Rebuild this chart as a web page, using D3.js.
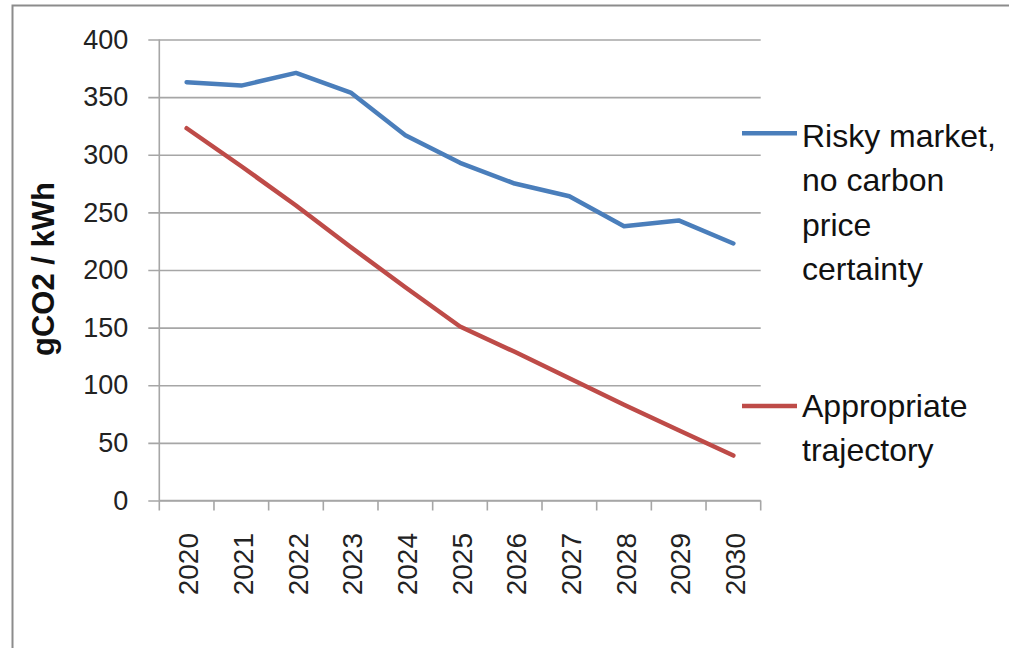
<!DOCTYPE html>
<html>
<head>
<meta charset="utf-8">
<script src="https://cdn.jsdelivr.net/npm/d3@7"></script>
<style>
  html, body { margin: 0; padding: 0; background: #fff; }
  svg { display: block; font-family: "Liberation Sans", Arial, sans-serif; }
</style>
</head>
<body>
<svg id="chart" width="1009" height="648"></svg>
<script>
(function () {
const years = ["2020","2021","2022","2023","2024","2025","2026","2027","2028","2029","2030"];
const riskyMarket = [363, 360, 371, 354, 317, 293, 275, 264, 238, 243, 223];
const appropriate = [323, 290, 256, 220, 185, 151, 129, 106, 83, 61, 39];
const yTicks = [0, 50, 100, 150, 200, 250, 300, 350, 400];
const seriesNames = [["Risky market,", "no carbon", "price", "certainty"], ["Appropriate", "trajectory"]];
const seriesColors = ["#4a7ebb", "#be4b48"];
const yTitle = "gCO2 / kWh";

const svg = d3.select("#chart");

// outer frame
svg.append("rect")
  .attr("x", 12.5).attr("y", 5.5)
  .attr("width", 1100).attr("height", 700)
  .attr("fill", "none").attr("stroke", "#8c8c8c").attr("stroke-width", 2);

const mLeft = 159.3, mRight = 760.7, mTop = 39.5, mBottom = 500.5;

const x = d3.scaleBand().domain(years).range([mLeft, mRight]).padding(0);
const y = d3.scaleLinear().domain([0, 400]).range([mBottom, mTop]);

// gridlines + y tick labels
const yAxis = d3.axisLeft(y).tickValues(yTicks).tickSize(0).tickPadding(20);
const gy = svg.append("g").attr("transform", `translate(${mLeft - 11},0)`).call(yAxis);
gy.select(".domain").remove();
gy.selectAll(".tick line").attr("stroke", "#a6a6a6").attr("stroke-width", 1.6)
  .attr("x1", 0).attr("x2", mRight - mLeft + 11);
gy.selectAll(".tick text")
  .attr("x", -20)
  .attr("font-size", 27).attr("fill", "#222")
  .attr("font-family", "Liberation Sans, Arial, sans-serif");

// y axis line
svg.append("line").attr("x1", mLeft).attr("x2", mLeft).attr("y1", mTop).attr("y2", mBottom)
  .attr("stroke", "#a6a6a6").attr("stroke-width", 1.6);

// x axis with boundary ticks
const gx = svg.append("g").attr("transform", `translate(0,${mBottom})`);
gx.append("line").attr("x1", mLeft).attr("x2", mRight).attr("y1", 0).attr("y2", 0)
  .attr("stroke", "#a6a6a6").attr("stroke-width", 1.6);
const boundaries = years.map(d => x(d)).concat([x(years[years.length - 1]) + x.bandwidth()]);
gx.selectAll("line.tk").data(boundaries).enter().append("line").attr("class", "tk")
  .attr("x1", d => d).attr("x2", d => d).attr("y1", 0).attr("y2", 10)
  .attr("stroke", "#a6a6a6").attr("stroke-width", 1.6);
gx.selectAll("text.xl").data(years).enter().append("text").attr("class", "xl")
  .attr("transform", d => `translate(${x(d) + x.bandwidth() / 2 + 1.5},${533 - mBottom}) rotate(-90)`)
  .attr("text-anchor", "end").attr("dy", "0.36em")
  .attr("font-size", 28).attr("fill", "#222")
  .text(d => d);

// y title
svg.append("text")
  .attr("transform", "translate(43,269) rotate(-90)")
  .attr("text-anchor", "middle").attr("dy", "0.36em")
  .attr("font-size", 31).attr("font-weight", "bold").attr("fill", "#111")
  .text(yTitle);

// lines
const line = d3.line().x((d, i) => x(years[i]) + x.bandwidth() / 2).y(d => y(d));
[riskyMarket, appropriate].forEach((s, i) => {
  svg.append("path").datum(s).attr("d", line)
    .attr("fill", "none").attr("stroke", seriesColors[i]).attr("stroke-width", 4.5)
    .attr("stroke-linejoin", "round").attr("stroke-linecap", "round");
});

// legend
const legendY = [133.3, 406];
const legendBase = [146.7, 416.7];
seriesNames.forEach((lines, i) => {
  svg.append("line").attr("x1", 742).attr("x2", 797).attr("y1", legendY[i]).attr("y2", legendY[i])
    .attr("stroke", seriesColors[i]).attr("stroke-width", 4.5);
  const t = svg.append("text").attr("x", 802).attr("y", legendBase[i])
    .attr("font-size", 32).attr("fill", "#111");
  lines.forEach((l, j) => {
    t.append("tspan").attr("x", 802).attr("dy", j === 0 ? 0 : 44.5).text(l);
  });
});
})();
</script>
</body>
</html>
